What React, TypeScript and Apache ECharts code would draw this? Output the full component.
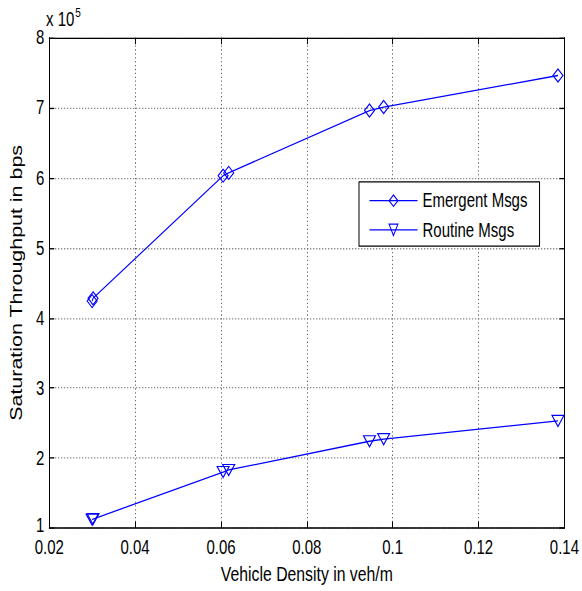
import React, { useEffect, useRef } from "react";
import * as echarts from "echarts";

const density = [0.03, 0.0302, 0.0605, 0.0618, 0.0946, 0.0979, 0.1385];
const emergentMsgs = [424000, 428000, 603000, 607000, 696000, 701000, 746000];
const routineMsgs = [112000, 113000, 180000, 183000, 224000, 227000, 253000];
const seriesNames = ["Emergent Msgs", "Routine Msgs"];
const xTitle = "Vehicle Density in veh/m";
const yTitle = "Saturation Throughput in bps";

const FONT = "Arial, 'Liberation Sans', Helvetica, sans-serif";
const BLUE = "#0000ff";
// The reference figure is stretched vertically; draw in a shorter box and stretch it.
const W = 582;
const H = 591;
const INNER_H = 455;
const STRETCH = H / INNER_H;

export default function App() {
  const ref = useRef<HTMLDivElement>(null);
  useEffect(() => {
    document.body.style.margin = "0";
    const chart = echarts.init(ref.current!, null, { renderer: "svg" });
    const axisBase = {
      type: "value" as const,
      axisLine: { show: true, lineStyle: { color: "#000", width: 1 } },
      axisTick: { show: true, inside: true, length: 5, lineStyle: { color: "#000" } },
    };
    const xRange = { min: 0.02, max: 0.14, interval: 0.02 };
    const yRange = { min: 100000, max: 800000, interval: 100000 };
    const grid = { color: "#666", type: [1, 2], width: 1 };
    chart.setOption({
      animation: false,
      backgroundColor: "#fff",
      grid: { left: 47, right: 14, top: 29, bottom: 41, containLabel: false },
      xAxis: [
        {
          ...axisBase,
          ...xRange,
          position: "bottom",
          name: xTitle,
          nameLocation: "middle",
          nameGap: 25,
          nameTextStyle: { color: "#000", fontSize: 15.8, fontFamily: FONT },
          axisLabel: {
            color: "#000",
            fontSize: 15,
            lineHeight: 13,
            fontFamily: FONT,
            margin: 8.5,
            formatter: (v: number) => String(+v.toFixed(2)),
          },
          splitLine: { show: true, lineStyle: grid },
        },
        {
          ...axisBase,
          ...xRange,
          position: "top",
          axisLabel: { show: false },
          splitLine: { show: false },
        },
      ],
      yAxis: [
        {
          ...axisBase,
          ...yRange,
          position: "left",
          name: yTitle,
          nameLocation: "middle",
          nameGap: 21,
          nameTextStyle: { color: "#000", fontSize: 16.5, fontFamily: FONT },
          axisLabel: {
            color: "#000",
            fontSize: 15,
            lineHeight: 13,
            fontFamily: FONT,
            margin: 5,
            formatter: (v: number) => {
              const s = String(Math.round(v / 100000));
              return v === yRange.min ? `{low|${s}}` : s;
            },
            rich: { low: { fontSize: 15, lineHeight: 13, fontFamily: FONT, color: "#000", padding: [0, 0, 5, 0] } },
          },
          splitLine: { show: true, lineStyle: grid },
        },
        {
          ...axisBase,
          ...yRange,
          position: "right",
          axisLabel: { show: false },
          splitLine: { show: false },
        },
      ],
      legend: {
        orient: "vertical",
        left: 359,
        top: 140,
        backgroundColor: "#fff",
        borderColor: "#000",
        borderWidth: 1,
        borderRadius: 0,
        padding: [7, 12, 5, 10],
        itemWidth: 48,
        itemHeight: 11,
        itemGap: 7.5,
        itemStyle: { color: "transparent", borderColor: BLUE, borderWidth: 1 },
        lineStyle: { color: BLUE, width: 1 },
        textStyle: { color: "#000", fontSize: 15, lineHeight: 14, fontFamily: FONT },
        data: seriesNames,
      },
      series: [
        {
          name: seriesNames[0],
          type: "line",
          data: density.map((d, i) => [d, emergentMsgs[i]]),
          symbol: "diamond",
          symbolSize: [10, 10],
          lineStyle: { color: BLUE, width: 1 },
          itemStyle: { color: "transparent", borderColor: BLUE, borderWidth: 1 },
        },
        {
          name: seriesNames[1],
          type: "line",
          data: density.map((d, i) => [d, routineMsgs[i]]),
          symbol: "triangle",
          symbolRotate: 180,
          symbolSize: [12, 8.5],
          lineStyle: { color: BLUE, width: 1 },
          itemStyle: { color: "transparent", borderColor: BLUE, borderWidth: 1 },
        },
      ],
      graphic: [
        {
          type: "text",
          left: 46,
          top: 5,
          style: {
            text: "x 10{sup|5}",
            fill: "#000",
            fontSize: 15,
            fontFamily: FONT,
            rich: { sup: { fontSize: 10, fontFamily: FONT, fill: "#000", verticalAlign: "top", padding: [0, 0, 9, 1] } },
          },
        },
      ],
    });
    return () => chart.dispose();
  }, []);
  return (
    <div style={{ position: "absolute", left: 0, top: 0, width: W, height: H, overflow: "hidden" }}>
      <div
        ref={ref}
        style={{
          width: W,
          height: INNER_H,
          transform: `scaleY(${STRETCH})`,
          transformOrigin: "0 0",
        }}
      />
    </div>
  );
}
